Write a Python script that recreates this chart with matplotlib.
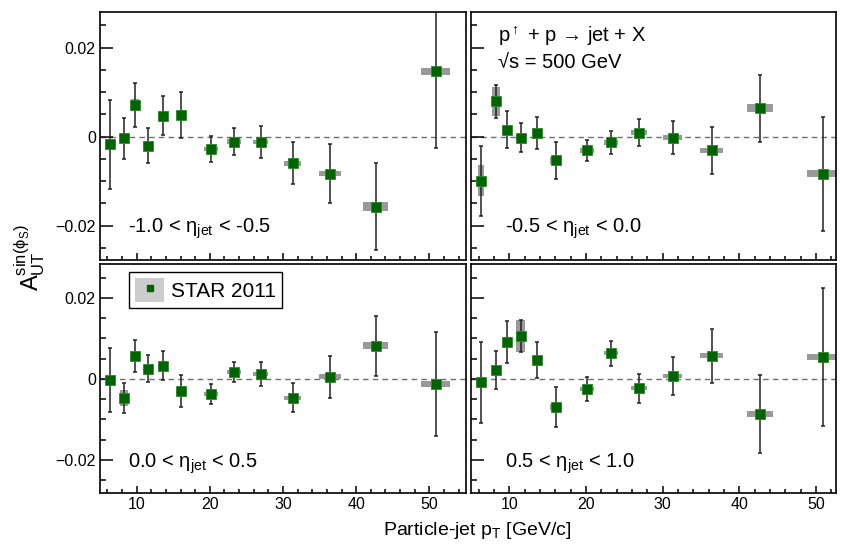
import numpy as np
import matplotlib
matplotlib.use("Agg")
from matplotlib import pyplot as plt
from matplotlib.patches import Patch
from matplotlib.lines import Line2D
from matplotlib.ticker import MultipleLocator

plt.rcParams["font.family"] = ["Liberation Sans", "DejaVu Sans"]
plt.rcParams["mathtext.fontset"] = "custom"
plt.rcParams["mathtext.rm"] = "Liberation Sans"
plt.rcParams["mathtext.it"] = "Liberation Sans:italic"
plt.rcParams["mathtext.sf"] = "Liberation Sans"

# --------------- data --------------------------------------------------------
# jet pT bin centres (same in all eta bins) and horizontal syst. half widths
pt = [6.35, 8.3, 9.75, 11.5, 13.6, 16.1, 20.15, 23.3, 26.95, 31.3, 36.4, 42.65, 50.85]
pt_sys = [0.4, 0.5, 0.55, 0.6, 0.65, 0.75, 0.95, 0.9, 1.05, 1.2, 1.5, 1.7, 2.0]

# -1.0 < eta < -0.5
a_m10 = [-0.0017, -0.0004, 0.0071, -0.0020, 0.0047, 0.0049, -0.0028, -0.0011, -0.0012, -0.0060, -0.0083, -0.0157, 0.0147]
err_m10 = [0.0100, 0.0047, 0.0050, 0.0040, 0.0044, 0.0051, 0.0029, 0.0031, 0.0036, 0.0047, 0.0067, 0.0097, 0.0172]
sys_m10 = [0.0006, 0.0006, 0.0013, 0.0006, 0.0008, 0.0008, 0.0005, 0.0005, 0.0005, 0.0005, 0.0006, 0.0010, 0.0008]

# -0.5 < eta < 0.0
a_m05 = [-0.0099, 0.0079, 0.0016, -0.0002, 0.0008, -0.0053, -0.0031, -0.0013, 0.0009, -0.0002, -0.0031, 0.0064, -0.0083]
err_m05 = [0.0079, 0.0038, 0.0041, 0.0033, 0.0036, 0.0041, 0.0024, 0.0026, 0.0030, 0.0038, 0.0052, 0.0075, 0.0128]
sys_m05 = [0.0035, 0.0032, 0.0008, 0.0006, 0.0006, 0.0008, 0.0005, 0.0005, 0.0005, 0.0005, 0.0006, 0.0009, 0.0008]

# 0.0 < eta < 0.5
a_p00 = [-0.0003, -0.0047, 0.0056, 0.0025, 0.0033, -0.0030, -0.0037, 0.0016, 0.0012, -0.0047, 0.0005, 0.0082, -0.0013]
err_p00 = [0.0079, 0.0037, 0.0040, 0.0033, 0.0036, 0.0040, 0.0024, 0.0025, 0.0029, 0.0036, 0.0052, 0.0074, 0.0128]
sys_p00 = [0.0006, 0.0020, 0.0008, 0.0006, 0.0006, 0.0006, 0.0005, 0.0005, 0.0005, 0.0005, 0.0006, 0.0008, 0.0008]

# 0.5 < eta < 1.0
a_p05 = [-0.0009, 0.0022, 0.0091, 0.0106, 0.0047, -0.0069, -0.0025, 0.0063, -0.0023, 0.0008, 0.0057, -0.0087, 0.0054]
err_p05 = [0.0100, 0.0046, 0.0051, 0.0040, 0.0044, 0.0049, 0.0029, 0.0031, 0.0036, 0.0047, 0.0067, 0.0096, 0.0170]
sys_p05 = [0.0006, 0.0006, 0.0012, 0.0039, 0.0006, 0.0008, 0.0005, 0.0005, 0.0005, 0.0005, 0.0006, 0.0008, 0.0008]

eta_labels = ["-1.0 < η$_{\\rm jet}$ < -0.5", "-0.5 < η$_{\\rm jet}$ < 0.0",
              "0.0 < η$_{\\rm jet}$ < 0.5", "0.5 < η$_{\\rm jet}$ < 1.0"]

GREEN = "#006400"
SYS_GREY = "#999999"

W, H = 846, 545
fig = plt.figure(figsize=(W / 100, H / 100), dpi=100)


def px_axes(x0, y0, x1, y1):
    return fig.add_axes([x0 / W, 1 - y1 / H, (x1 - x0) / W, (y1 - y0) / H])


axs = [px_axes(100, 12, 466, 260), px_axes(471, 12, 836, 260),
       px_axes(100, 264, 466, 492.5), px_axes(471, 264, 836, 492.5)]
xlims = [(5, 55), (5, 52.6), (5, 55), (5, 52.6)]
ylims = [(-0.0277, 0.028), (-0.0277, 0.028), (-0.0281, 0.0284), (-0.0281, 0.0284)]
values = [(a_m10, err_m10, sys_m10), (a_m05, err_m05, sys_m05),
          (a_p00, err_p00, sys_p00), (a_p05, err_p05, sys_p05)]

for i, ax in enumerate(axs):
    a, err, sys = values[i]
    a = np.array(a)
    sys = np.array(sys)
    ax.axhline(0, color="#707070", lw=1, ls=(0, (4, 3)), zorder=1)
    ax.bar(pt, 2 * sys, bottom=a - sys, width=2 * np.array(pt_sys),
           color=SYS_GREY, lw=0, zorder=2)
    ax.errorbar(pt, a, yerr=err, fmt="none", ecolor="#222222", elinewidth=1.1,
                capsize=1.6, capthick=1.1, zorder=3)
    ax.plot(pt, a, ls="none", marker="s", ms=7.8, color=GREEN,
            mec="#2a8a2a", mew=0.6, zorder=4)

    ax.set_xlim(*xlims[i])
    ax.set_ylim(*ylims[i])
    ax.xaxis.set_major_locator(MultipleLocator(10))
    ax.xaxis.set_minor_locator(MultipleLocator(2))
    ax.yaxis.set_major_locator(MultipleLocator(0.02))
    ax.yaxis.set_minor_locator(MultipleLocator(0.005))
    ax.tick_params(which="both", direction="in", top=False, right=False,
                   labelsize=11.5, width=1.1, color="black", pad=3)
    ax.tick_params(axis="y", which="major", length=9)
    ax.tick_params(axis="y", which="minor", length=4.5)
    ax.tick_params(axis="x", which="major", length=5)
    ax.tick_params(axis="x", which="minor", length=3)
    ax.yaxis.set_major_formatter(plt.FuncFormatter(
        lambda v, p: "0" if abs(v) < 1e-9 else ("%.2f" % v).replace("-", "\u2212")))
    for s in ax.spines.values():
        s.set_linewidth(1.2)
    if i < 2:
        ax.tick_params(labelbottom=False)
    if i % 2 == 1:
        ax.tick_params(labelleft=False)

    ax.text(0.077 if i % 2 == 0 else 0.093, 0.11 if i < 2 else 0.107, eta_labels[i],
            transform=ax.transAxes, fontsize=14.5, va="baseline", ha="left")

axs[1].text(0.074, 0.88, "p$^{\\uparrow}$ + p \u2192 jet + X",
            transform=axs[1].transAxes, fontsize=14.5, va="baseline")
axs[1].text(0.074, 0.773, "\u221as = 500 GeV",
            transform=axs[1].transAxes, fontsize=14.5, va="baseline")

leg_handle = (Patch(facecolor="#cccccc", edgecolor="none"),
              Line2D([], [], ls="none", marker="s", ms=5, color=GREEN))
leg = axs[2].legend([leg_handle], ["STAR 2011"], loc="upper left",
                    bbox_to_anchor=(0.079, 0.965), fontsize=15, fancybox=False,
                    framealpha=1, edgecolor="black", handlelength=1.4,
                    handleheight=1.35, borderpad=0.3, handletextpad=0.3,
                    borderaxespad=0)
leg.get_frame().set_linewidth(1.0)

fig.text(0.5635, 0.027, "Particle-jet p$_{\\rm T}$ [GeV/c]", ha="center",
         va="center", fontsize=14)
fig.text(0.035, 0.528, "A$_{\\rm UT}^{\\rm sin(\\phi_{S})}$", ha="center",
         va="center", rotation=90, fontsize=17)

fig.savefig("out.png", dpi=100)
